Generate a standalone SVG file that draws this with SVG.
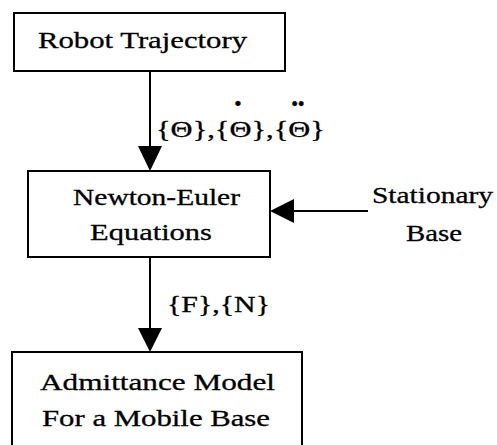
<svg xmlns="http://www.w3.org/2000/svg" width="497" height="445" viewBox="0 0 497 445">
  <style>
    .box { fill: #ffffff; stroke: #000000; stroke-width: 2; }
    .wire { fill: none; stroke: #000000; stroke-width: 2; }
    .lbl { font-family: "Liberation Serif", "Times New Roman", serif; font-size: 24px; fill: #000000; stroke: #000000; stroke-width: 0.3; }
    .acc { font-size: 34px; font-weight: bold; text-anchor: middle; }
    .acc2 { font-size: 40px; font-weight: bold; text-anchor: middle; }
  </style>
  <rect width="497" height="445" fill="#ffffff"/>

  <g id="connectors">
    <line class="wire" x1="150" y1="71" x2="150" y2="146"/>
    <path d="M138,146 L162,146 L150,171 Z" fill="#000000"/>
    <line class="wire" x1="150" y1="257" x2="150" y2="328"/>
    <path d="M138,328 L162,328 L150,352 Z" fill="#000000"/>
    <line class="wire" x1="368" y1="211" x2="294" y2="211"/>
    <path d="M294,199 L294,223 L270,211 Z" fill="#000000"/>
    <!-- joint angles with their first and second time derivatives -->
    <text class="lbl"><tspan x="156" y="137" textLength="169" lengthAdjust="spacingAndGlyphs">{Θ},{Θ},{Θ}</tspan><tspan class="acc" x="238" y="124">˙</tspan><tspan class="acc2" x="298" y="128">¨</tspan></text>
    <text class="lbl" x="167" y="312" textLength="103" lengthAdjust="spacingAndGlyphs">{F},{N}</text>
  </g>

  <g id="robot-trajectory">
    <rect class="box" x="14" y="13" width="271" height="58"/>
    <text class="lbl" x="38" y="48" textLength="209" lengthAdjust="spacingAndGlyphs">Robot Trajectory</text>
  </g>

  <g id="newton-euler">
    <rect class="box" x="28" y="171" width="242" height="86"/>
    <text class="lbl" x="73" y="205" textLength="167" lengthAdjust="spacingAndGlyphs">Newton-Euler</text>
    <text class="lbl" x="90" y="240" textLength="122" lengthAdjust="spacingAndGlyphs">Equations</text>
  </g>

  <g id="stationary-base">
    <text class="lbl" x="372" y="203" textLength="121" lengthAdjust="spacingAndGlyphs">Stationary</text>
    <text class="lbl" x="406" y="241" textLength="56" lengthAdjust="spacingAndGlyphs">Base</text>
  </g>

  <g id="admittance-model">
    <rect class="box" x="12" y="352" width="290" height="110"/>
    <text class="lbl" x="40" y="390" textLength="235" lengthAdjust="spacingAndGlyphs">Admittance Model</text>
    <text class="lbl" x="42" y="426" textLength="228" lengthAdjust="spacingAndGlyphs">For a Mobile Base</text>
  </g>
</svg>
